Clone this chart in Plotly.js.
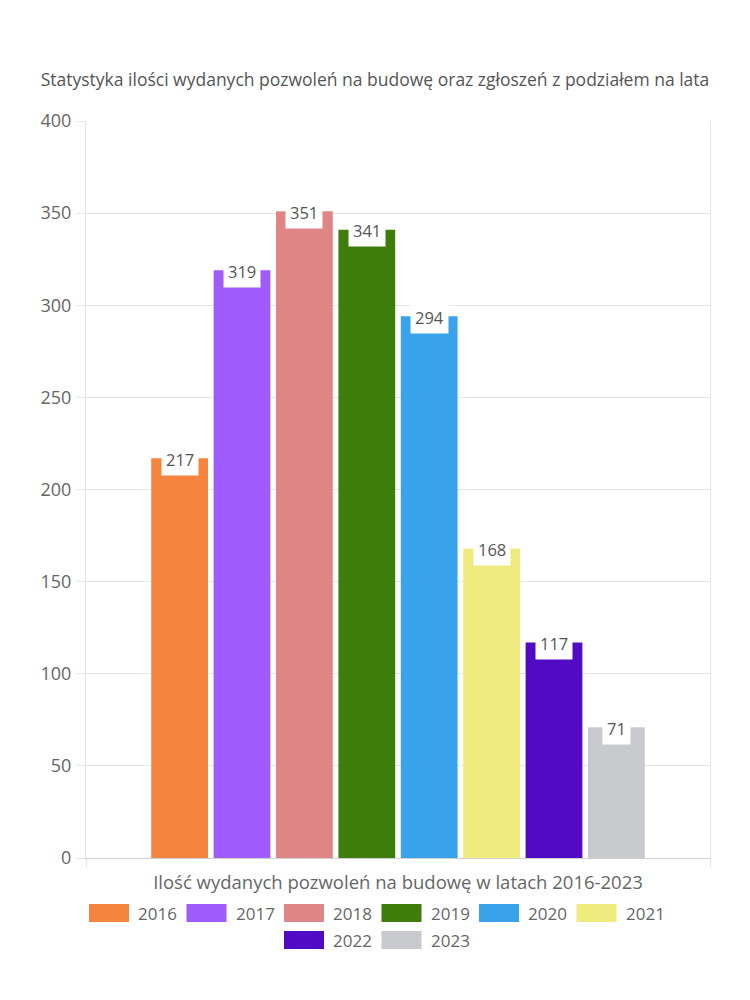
<!DOCTYPE html>
<html><head><meta charset="utf-8">
<script src="https://cdn.plot.ly/plotly-3.0.1.min.js"></script>
<style>html,body{margin:0;padding:0;background:#fff}#chart{width:750px;height:1000px}</style>
</head><body><div id="chart"></div>
<script>
const years = ['2016','2017','2018','2019','2020','2021','2022','2023'];
const values = [217, 319, 351, 341, 294, 168, 117, 71];
const colors = ['#F5843F','#A05BFC','#E08585','#3E7D0C','#38A3EA','#EFEB7F','#520BC4','#C9CACE'];
const yTicks = [0,50,100,150,200,250,300,350,400];

const FONT = 'Open Sans, Lato, sans-serif';
const W = 750, H = 1000;
const M = {l:86, r:40, t:121, b:142};

const traces = years.map((yr,i)=>({
  type:'bar', name:yr, x:[i], y:[values[i]], width:0.91,
  marker:{color:colors[i], line:{width:0}},
  showlegend:false, hoverinfo:'none'
}));

const annotations = years.map((yr,i)=>({
  x:i, y:values[i], xref:'x', yref:'y', text:String(values[i]),
  showarrow:false, bgcolor:'#ffffff', borderpad:4, yanchor:'middle', yshift:-1,
  font:{family:FONT, size:16.5, color:'#555'}
}));

// custom legend (layout, pixel based)
const shapes = [];
const px = x => (x - M.l)/(W - M.l - M.r);
const py = y => (H - M.b - y)/(H - M.t - M.b);
const rows = [[0,1,2,3,4,5],[6,7]];
const itemW = 97.5, swW = 40, swH = 18;
rows.forEach((row,r)=>{
  const total = row.length*itemW - 11;
  const start = (r===0) ? 89 : 375 - total/2 + 1;
  const cy = r===0 ? 913 : 940;
  row.forEach((idx,k)=>{
    const x0 = start + k*itemW;
    shapes.push({type:'rect', xref:'paper', yref:'paper', x0:px(x0), x1:px(x0+swW),
      y0:py(cy+swH/2), y1:py(cy-swH/2), fillcolor:colors[idx], line:{width:0}});
    annotations.push({xref:'paper', yref:'paper', x:px(x0+swW+7), y:py(cy), xanchor:'left', yanchor:'middle',
      showarrow:false, text:years[idx], font:{family:FONT, size:17, color:'#666'}});
  });
});

const layout = {
  width:W, height:H, margin:M, paper_bgcolor:'#fff', plot_bgcolor:'#fff',
  title:{text:'Statystyka ilości wydanych pozwoleń na budowę oraz zgłoszeń z podziałem na lata',
    x:0.5, xanchor:'center', y:1-80/H, yanchor:'middle', font:{family:FONT, size:17.5, color:'#555'}},
  barmode:'overlay',
  xaxis:{range:[-1.5, 8.5], tickvals:[-1.5, 8.5], showticklabels:false, ticks:'outside', ticklen:8,
    tickcolor:'#e2e2e2', showgrid:true, gridcolor:'#e6e6e6', zeroline:false,
    showline:true, linecolor:'#d0d0d0', linewidth:1, fixedrange:true,
    title:{text:'Ilość wydanych pozwoleń na budowę w latach 2016-2023', standoff:10,
      font:{family:FONT, size:18.5, color:'#666'}}},
  yaxis:{range:[0,400], tickvals:yTicks, ticks:'outside', ticklen:8, tickcolor:'#e6e6e6',
    showgrid:true, gridcolor:'#e6e6e6', zeroline:false, showline:true, mirror:true, linecolor:'#e6e6e6',
    tickfont:{family:FONT, size:18, color:'#666'}, ticklabelstandoff:2},
  annotations, shapes
};
Plotly.newPlot('chart', traces, layout, {displayModeBar:false, staticPlot:true});
</script></body></html>
